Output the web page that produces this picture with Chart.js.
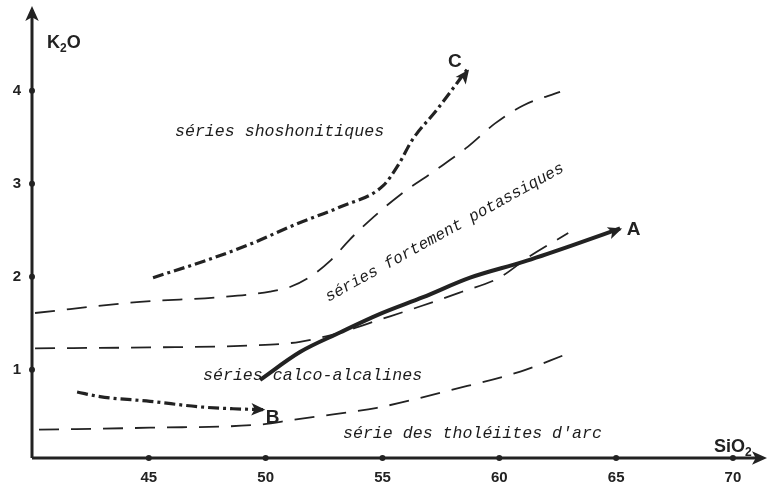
<!DOCTYPE html>
<html>
<head>
<meta charset="utf-8">
<script src="https://cdn.jsdelivr.net/npm/chart.js@4/dist/chart.umd.min.js"></script>
<style>
  html, body { margin: 0; padding: 0; background: #fff; }
  #wrap { width: 768px; height: 487px; }
</style>
</head>
<body>
<div id="wrap"><canvas id="diagram"></canvas></div>
<script>
// Axis ticks
const siO2Ticks = [45, 50, 55, 60, 65, 70];
const k2oTicks = [1, 2, 3, 4];

// Field boundaries (dashed)
const tholeiiteLimitX = [40.3, 45.05, 49.76, 51.17, 52.89, 54.77, 57.9, 60.9, 62.8];
const tholeiiteLimitY = [0.355, 0.376, 0.41, 0.46, 0.52, 0.59, 0.78, 0.98, 1.16];

const calcAlkLimitX = [40.13, 45.05, 49.33, 51.47, 53.18, 54.9, 56.6, 58.3, 60.0, 61.3, 62.95];
const calcAlkLimitY = [1.23, 1.24, 1.26, 1.30, 1.40, 1.54, 1.68, 1.83, 1.99, 2.22, 2.47];

const highKLimitX = [40.13, 44.62, 48.05, 50.19, 51.04, 51.9, 52.76, 53.6, 54.47, 55.75, 57.29, 58.66, 59.82, 61.0, 62.6];
const highKLimitY = [1.61, 1.73, 1.78, 1.84, 1.89, 2.0, 2.17, 2.40, 2.61, 2.88, 3.15, 3.40, 3.65, 3.84, 3.99];

// Evolution trends A, B, C
const trendAX = [49.76, 51.47, 53.18, 54.9, 56.74, 58.75, 61.02, 63.03, 65.17];
const trendAY = [0.89, 1.19, 1.40, 1.60, 1.78, 1.99, 2.16, 2.33, 2.52];

const trendBX = [41.93, 42.91, 45.05, 47.19, 48.6, 49.9];
const trendBY = [0.76, 0.71, 0.66, 0.60, 0.58, 0.57];

const trendCX = [45.18, 47.62, 49.33, 51.34, 53.18, 55.03, 55.67, 56.27, 57.34, 58.62];
const trendCY = [1.99, 2.19, 2.35, 2.57, 2.75, 2.98, 3.20, 3.47, 3.80, 4.23];

const ink = '#222';

function toPoints(xs, ys) {
    return xs.map((x, i) => ({ x: x, y: ys[i] }));
}

function boundary(xs, ys) {
    return {
        data: toPoints(xs, ys),
        borderColor: ink,
        borderWidth: 1.8,
        borderDash: [20, 12],
        pointRadius: 0,
        cubicInterpolationMode: 'monotone',
        fill: false
    };
}

function trend(xs, ys, width, dash) {
    return {
        data: toPoints(xs, ys),
        borderColor: ink,
        borderWidth: width,
        borderDash: dash,
        pointRadius: 0,
        cubicInterpolationMode: 'monotone',
        fill: false,
        arrowEnd: true
    };
}

function arrowHead(ctx, x, y, angle, size) {
    ctx.save();
    ctx.translate(x, y);
    ctx.rotate(angle);
    ctx.beginPath();
    ctx.moveTo(0, 0);
    ctx.lineTo(-size, -size * 0.45);
    ctx.lineTo(-size * 0.75, 0);
    ctx.lineTo(-size, size * 0.45);
    ctx.closePath();
    ctx.fill();
    ctx.restore();
}

// axes with arrows, tick dots, end arrows and the text of the diagram
const overlay = {
    id: 'overlay',
    afterDatasetsDraw(chart) {
        const { ctx, chartArea: a, scales: { x, y } } = chart;
        ctx.save();
        ctx.strokeStyle = ink;
        ctx.fillStyle = ink;
        ctx.lineWidth = 3;
        ctx.lineCap = 'butt';

        // axes
        ctx.beginPath();
        ctx.moveTo(a.left, a.bottom);
        ctx.lineTo(a.left, a.top);
        ctx.moveTo(a.left, a.bottom);
        ctx.lineTo(a.right - 6, a.bottom);
        ctx.stroke();
        arrowHead(ctx, a.left, a.top - 4, -Math.PI / 2, 15);
        arrowHead(ctx, a.right - 1, a.bottom, 0, 15);

        // tick dots
        siO2Ticks.forEach(v => {
            ctx.beginPath();
            ctx.arc(x.getPixelForValue(v), a.bottom, 3, 0, Math.PI * 2);
            ctx.fill();
        });
        k2oTicks.forEach(v => {
            ctx.beginPath();
            ctx.arc(a.left, y.getPixelForValue(v), 3, 0, Math.PI * 2);
            ctx.fill();
        });

        // arrowheads at the end of the trends
        chart.data.datasets.forEach((ds, i) => {
            if (!ds.arrowEnd) return;
            const pts = chart.getDatasetMeta(i).data;
            const p1 = pts[pts.length - 1];
            const p0 = pts[pts.length - 2];
            arrowHead(ctx, p1.x + 2, p1.y, Math.atan2(p1.y - p0.y, p1.x - p0.x), 14);
        });

        // axis titles
        ctx.textBaseline = 'alphabetic';
        ctx.textAlign = 'left';
        ctx.font = 'bold 18px "Liberation Sans"';
        let px = a.left + 15;
        let py = 48;
        ctx.fillText('K', px, py);
        px += ctx.measureText('K').width;
        ctx.font = 'bold 12px "Liberation Sans"';
        ctx.fillText('2', px, py + 4);
        px += ctx.measureText('2').width;
        ctx.font = 'bold 18px "Liberation Sans"';
        ctx.fillText('O', px, py);

        px = 714;
        py = 452;
        ctx.fillText('SiO', px, py);
        px += ctx.measureText('SiO').width;
        ctx.font = 'bold 12px "Liberation Sans"';
        ctx.fillText('2', px, py + 4);

        // trend letters
        ctx.font = 'bold 19px "Liberation Sans"';
        ctx.textAlign = 'center';
        ctx.textBaseline = 'middle';
        ctx.fillText('A', x.getPixelForValue(65.75), y.getPixelForValue(2.51));
        ctx.fillText('B', x.getPixelForValue(50.3), y.getPixelForValue(0.48));
        ctx.fillText('C', x.getPixelForValue(58.1), y.getPixelForValue(4.31));

        // field names
        ctx.font = 'italic 16.6px "Liberation Mono"';
        ctx.fillStyle = '#1c1c1c';
        ctx.textAlign = 'left';
        ctx.fillText('séries shoshonitiques', x.getPixelForValue(46.12), y.getPixelForValue(3.56));
        ctx.fillText('séries calco-alcalines', x.getPixelForValue(47.32), y.getPixelForValue(0.94));
        ctx.fillText('série des tholéiites d\'arc', x.getPixelForValue(53.31), y.getPixelForValue(0.31));

        ctx.save();
        ctx.font = 'italic 16.1px "Liberation Mono"';
        ctx.translate(x.getPixelForValue(52.6), y.getPixelForValue(1.77));
        ctx.rotate(-29 * Math.PI / 180);
        ctx.fillText('séries fortement potassiques', 0, 0);
        ctx.restore();

        ctx.restore();
    }
};

new Chart(document.getElementById('diagram'), {
    type: 'line',
    data: {
        datasets: [
            boundary(tholeiiteLimitX, tholeiiteLimitY),
            boundary(calcAlkLimitX, calcAlkLimitY),
            boundary(highKLimitX, highKLimitY),
            trend(trendAX, trendAY, 4, []),
            trend(trendBX, trendBY, 3.2, [11, 4, 3, 4]),
            trend(trendCX, trendCY, 3.2, [11, 4, 3, 4])
        ]
    },
    options: {
        responsive: true,
        maintainAspectRatio: false,
        animation: false,
        events: [],
        layout: { padding: { top: 10, right: 0, left: 0, bottom: 0 } },
        plugins: {
            legend: { display: false },
            tooltip: { enabled: false }
        },
        scales: {
            x: {
                type: 'linear',
                min: 40,
                max: 71.5,
                border: { display: false },
                grid: { display: false, drawTicks: false },
                afterBuildTicks: scale => { scale.ticks = siO2Ticks.map(v => ({ value: v })); },
                afterFit: scale => {
                    scale.height = 29;
                    scale.paddingLeft = 0;
                    scale.paddingRight = 0;
                },
                ticks: {
                    padding: 11,
                    color: ink,
                    maxRotation: 0,
                    font: { family: 'Liberation Sans', size: 15, weight: 'bold' }
                }
            },
            y: {
                type: 'linear',
                min: 0.05,
                max: 4.87,
                border: { display: false },
                grid: { display: false, drawTicks: false },
                afterBuildTicks: scale => { scale.ticks = k2oTicks.map(v => ({ value: v })); },
                afterFit: scale => {
                    scale.width = 32;
                    scale.paddingTop = 0;
                    scale.paddingBottom = 0;
                },
                ticks: {
                    padding: 11,
                    color: ink,
                    font: { family: 'Liberation Sans', size: 15, weight: 'bold' }
                }
            }
        }
    },
    plugins: [overlay]
});
</script>
</body>
</html>
